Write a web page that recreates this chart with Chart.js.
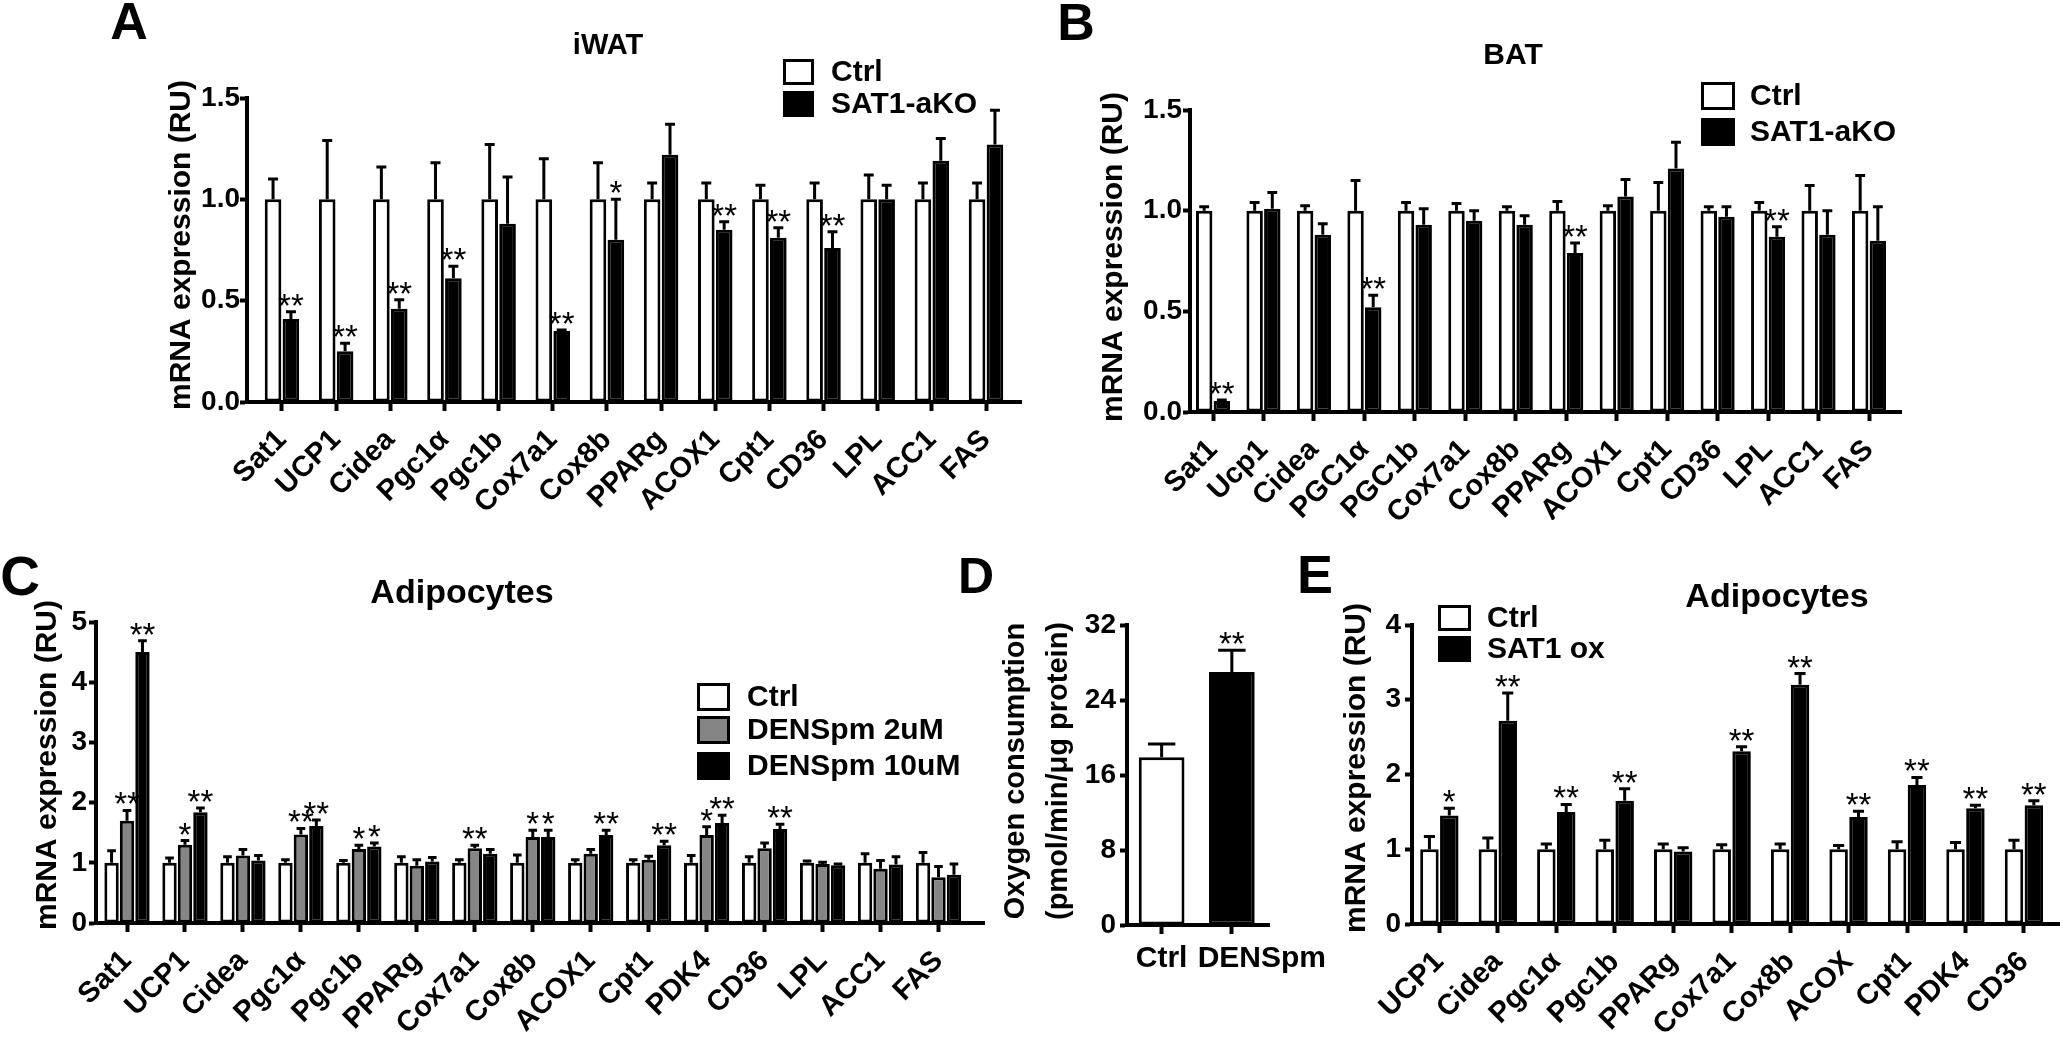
<!DOCTYPE html>
<html>
<head>
<meta charset="utf-8">
<script src="https://cdn.jsdelivr.net/npm/chart.js@4.4.1/dist/chart.umd.min.js"></script>
<style>
  body { margin: 0; background: #fff; width: 2064px; height: 1041px; overflow: hidden; position: relative; }
  canvas { position: absolute; }
</style>
</head>
<body>
<canvas id="panelA"></canvas>
<canvas id="panelB"></canvas>
<canvas id="panelC"></canvas>
<canvas id="panelD"></canvas>
<canvas id="panelE"></canvas>
<script>
const FONT = "'Liberation Sans', Arial, Helvetica, sans-serif";

/* ── A: iWAT ─────────────────────────────────────────────── */
const catsA    = ['Sat1', 'UCP1', 'Cidea', 'Pgc1α', 'Pgc1b', 'Cox7a1', 'Cox8b', 'PPARg', 'ACOX1', 'Cpt1', 'CD36', 'LPL', 'ACC1', 'FAS'];
const ctrlA    = [1, 1, 1, 1, 1, 1, 1, 1, 1, 1, 1, 1, 1, 1];
const ctrlErrA = [0.10, 0.29, 0.16, 0.18, 0.27, 0.20, 0.18, 0.08, 0.08, 0.07, 0.08, 0.12, 0.08, 0.08];
const koA      = [0.41, 0.25, 0.46, 0.61, 0.88, 0.35, 0.80, 1.22, 0.85, 0.81, 0.76, 1.00, 1.19, 1.27];
const koErrA   = [0.035, 0.04, 0.045, 0.06, 0.23, 0.005, 0.20, 0.15, 0.04, 0.05, 0.08, 0.07, 0.11, 0.17];
const koStarsA = ['**', '**', '**', '**', '', '**', '*', '', '**', '**', '**', '', '', ''];

/* ── B: BAT ──────────────────────────────────────────────── */
const catsB    = ['Sat1', 'Ucp1', 'Cidea', 'PGC1α', 'PGC1b', 'Cox7a1', 'Cox8b', 'PPARg', 'ACOX1', 'Cpt1', 'CD36', 'LPL', 'ACC1', 'FAS'];
const ctrlB    = [1, 1, 1, 1, 1, 1, 1, 1, 1, 1, 1, 1, 1, 1];
const ctrlErrB = [0.02, 0.04, 0.025, 0.15, 0.04, 0.035, 0.02, 0.045, 0.025, 0.14, 0.02, 0.04, 0.125, 0.175];
const koB      = [0.055, 1.01, 0.88, 0.52, 0.93, 0.95, 0.93, 0.79, 1.07, 1.21, 0.97, 0.87, 0.88, 0.85];
const koErrB   = [0.005, 0.08, 0.055, 0.06, 0.08, 0.05, 0.045, 0.05, 0.085, 0.13, 0.05, 0.05, 0.12, 0.17];
const koStarsB = ['**', '', '', '**', '', '', '', '**', '', '', '', '**', '', ''];

/* ── C: Adipocytes + DENSpm ──────────────────────────────── */
const catsC     = ['Sat1', 'UCP1', 'Cidea', 'Pgc1α', 'Pgc1b', 'PPARg', 'Cox7a1', 'Cox8b', 'ACOX1', 'Cpt1', 'PDK4', 'CD36', 'LPL', 'ACC1', 'FAS'];
const ctrlC     = [1, 1, 1, 1, 1, 1, 1, 1, 1, 1, 1, 1, 1, 1, 1];
const ctrlErrC  = [0.20, 0.08, 0.10, 0.05, 0.04, 0.10, 0.05, 0.13, 0.05, 0.05, 0.12, 0.10, 0.03, 0.15, 0.17];
const d2C       = [1.70, 1.30, 1.12, 1.47, 1.23, 0.95, 1.24, 1.43, 1.15, 1.05, 1.46, 1.24, 0.98, 0.90, 0.76];
const d2ErrC    = [0.17, 0.07, 0.10, 0.10, 0.06, 0.10, 0.05, 0.11, 0.07, 0.06, 0.14, 0.09, 0.03, 0.14, 0.18];
const d2StarsC  = ['**', '*', '', '**', '*', '', '**', '*', '', '', '*', '', '', '', ''];
const d10C      = [4.50, 1.84, 1.04, 1.61, 1.27, 1.02, 1.15, 1.43, 1.46, 1.29, 1.66, 1.56, 0.96, 0.97, 0.80];
const d10ErrC   = [0.19, 0.07, 0.08, 0.10, 0.06, 0.07, 0.07, 0.11, 0.08, 0.07, 0.13, 0.08, 0.02, 0.13, 0.18];
const d10StarsC = ['**', '**', '', '**', '*', '', '', '*', '**', '**', '**', '**', '', '', ''];

/* ── D: oxygen consumption ───────────────────────────────── */
const catsD     = ['Ctrl', 'DENSpm'];
const ocrD      = [17.9, 27.0];
const ocrErrD   = [1.4, 2.3];
const ocrStarsD = ['', '**'];

/* ── E: Adipocytes + SAT1 ox ─────────────────────────────── */
const catsE    = ['UCP1', 'Cidea', 'Pgc1α', 'Pgc1b', 'PPARg', 'Cox7a1', 'Cox8b', 'ACOX', 'Cpt1', 'PDK4', 'CD36'];
const ctrlE    = [1, 1, 1, 1, 1, 1, 1, 1, 1, 1, 1];
const ctrlErrE = [0.17, 0.15, 0.07, 0.12, 0.07, 0.06, 0.07, 0.05, 0.10, 0.09, 0.12];
const oxE      = [1.45, 2.72, 1.50, 1.65, 0.97, 2.31, 3.20, 1.43, 1.86, 1.55, 1.59];
const oxErrE   = [0.10, 0.37, 0.10, 0.16, 0.05, 0.06, 0.15, 0.08, 0.10, 0.04, 0.06];
const oxStarsE = ['*', '**', '**', '**', '', '**', '**', '**', '**', '**', '**'];

// error bars, stars, letters, titles, legends (page coords -> canvas coords)
function decorPlugin(p) {
    const L = x => x - p.box.l;
    const T = y => y - p.box.t;
    return {
        id: 'decor',
        afterDatasetsDraw(chart) {
            const ctx = chart.ctx;
            const y = chart.scales.y;
            ctx.save();
            ctx.strokeStyle = '#000';
            ctx.fillStyle = '#000';
            ctx.lineWidth = 3;
            ctx.font = `33px ${FONT}`;
            ctx.textAlign = 'center';
            ctx.textBaseline = 'alphabetic';
            chart.data.datasets.forEach((ds, di) => {
                chart.getDatasetMeta(di).data.forEach((bar, i) => {
                    const top = y.getPixelForValue(ds.data[i].y + ds.errors[i]);
                    const half = bar.width * 0.3;
                    ctx.beginPath();
                    ctx.moveTo(bar.x, bar.y);
                    ctx.lineTo(bar.x, top);
                    ctx.moveTo(bar.x - half, top);
                    ctx.lineTo(bar.x + half, top);
                    ctx.stroke();
                    if (ds.stars && ds.stars[i]) ctx.fillText(ds.stars[i], bar.x, top + 5);
                });
            });
            ctx.restore();
        },
        afterDraw(chart) {
            const ctx = chart.ctx;
            ctx.save();
            ctx.fillStyle = '#000';
            ctx.textBaseline = 'alphabetic';
            ctx.textAlign = 'center';

            // panel letter
            ctx.font = `bold ${p.letter.size}px ${FONT}`;
            ctx.fillText(p.letter.text, L(p.letter.x), T(p.letter.y));

            // panel title
            if (p.title) {
                ctx.font = `bold ${p.title.size}px ${FONT}`;
                ctx.fillText(p.title.text, L(p.title.x), T(p.title.y));
            }

            // y axis title (one or two lines)
            ctx.font = `bold ${p.ytitle.size}px ${FONT}`;
            ctx.textBaseline = 'middle';
            p.ytitle.lines.forEach((line, k) => {
                ctx.save();
                ctx.translate(L(p.ytitle.x[k]), T(p.ytitle.y));
                ctx.rotate(-Math.PI / 2);
                ctx.fillText(line, 0, 0);
                ctx.restore();
            });

            // legend
            if (p.legend) {
                const lg = p.legend;
                ctx.font = `bold 30px ${FONT}`;
                ctx.textAlign = 'left';
                ctx.lineWidth = 3;
                ctx.strokeStyle = '#000';
                chart.data.datasets.forEach((ds, di) => {
                    const cy = lg.rows[di];
                    ctx.fillStyle = ds.backgroundColor;
                    ctx.fillRect(L(lg.bx), T(cy - lg.bh / 2), lg.bw, lg.bh);
                    ctx.strokeRect(L(lg.bx) + 1.5, T(cy - lg.bh / 2) + 1.5, lg.bw - 3, lg.bh - 3);
                    ctx.fillStyle = '#000';
                    ctx.fillText(ds.label, L(lg.tx), T(cy + 1));
                });
            }

            // horizontal category labels (panel D)
            if (p.xlabels) {
                const xs = chart.scales.x;
                ctx.font = `bold ${p.xlabels.size}px ${FONT}`;
                ctx.textAlign = 'center';
                ctx.textBaseline = 'alphabetic';
                p.cats.forEach((c, i) => {
                    ctx.fillText(c, xs.getPixelForValue(i) + p.xlabels.offsets[i], T(p.xlabels.y));
                });
            }
            ctx.restore();
        }
    };
}

function makePanel(id, p) {
    const cv = document.getElementById(id);
    const a = p.area, b = p.box;
    cv.width = b.w;
    cv.height = b.h;
    cv.style.left = b.l + 'px';
    cv.style.top = b.t + 'px';

    return new Chart(cv, {
        type: 'bar',
        data: {
            datasets: p.datasets.map(d => ({
                label: d.label,
                data: p.cats.map((c, i) => ({ x: i, y: d.values[i] })),
                errors: d.errors,
                stars: d.stars,
                backgroundColor: d.color,
                borderColor: '#000',
                borderWidth: 3,
                borderSkipped: false,
                categoryPercentage: p.catPct,
                barPercentage: 0.93,
            })),
        },
        options: {
            responsive: false,
            animation: false,
            devicePixelRatio: 1,
            events: [],
            layout: { padding: { left: 0, top: a.t - b.t, right: b.l + b.w - a.r, bottom: 0 } },
            plugins: {
                legend: { display: false },
                tooltip: { enabled: false },
            },
            scales: {
                x: {
                    type: 'linear',
                    min: p.xMin,
                    max: p.xMax,
                    offset: false,
                    afterBuildTicks: s => { s.ticks = p.cats.map((c, i) => ({ value: i })); },
                    afterFit: s => { s.height = b.t + b.h - a.b; s.paddingLeft = 0; s.paddingRight = 0; },
                    grid: { offset: false, drawOnChartArea: false, tickLength: 9, tickWidth: 4, tickColor: '#000' },
                    border: { color: '#000', width: 4, z: 1 },
                    ticks: {
                        display: !p.xlabels,
                        autoSkip: false,
                        maxRotation: 45,
                        minRotation: 45,
                        padding: 12,
                        color: '#000',
                        font: { family: FONT, size: 29, weight: 'bold' },
                        callback: (v, i) => p.cats[i],
                    },
                },
                y: {
                    min: 0,
                    max: p.yMax,
                    afterFit: s => { s.width = a.l - b.l; s.paddingTop = 0; s.paddingBottom = 0; },
                    grid: { drawOnChartArea: false, tickLength: 7, tickWidth: 4, tickColor: '#000' },
                    border: { color: '#000', width: 4, z: 1 },
                    ticks: {
                        stepSize: p.yStep,
                        padding: p.yPad,
                        color: '#000',
                        font: { family: FONT, size: 28, weight: 'bold' },
                        callback: v => v.toFixed(p.yDec),
                    },
                },
            },
        },
        plugins: [decorPlugin(p)],
    });
}

makePanel('panelA', {
    box: { l: 0, t: 0, w: 1040, h: 520 },
    area: { l: 247, t: 98, r: 1021, b: 402 },
    cats: catsA, xMin: -0.646, xMax: 13.646, catPct: 0.66,
    yMax: 1.5, yStep: 0.5, yDec: 1, yPad: 0,
    datasets: [
        { label: 'Ctrl', values: ctrlA, errors: ctrlErrA, color: '#fff' },
        { label: 'SAT1-aKO', values: koA, errors: koErrA, stars: koStarsA, color: '#000' },
    ],
    letter: { text: 'A', size: 52, x: 129, y: 39 },
    title: { text: 'iWAT', size: 29, x: 608, y: 54 },
    ytitle: { lines: ['mRNA expression (RU)'], x: [182], y: 245, size: 30 },
    legend: { bx: 783, bw: 31, bh: 26, rows: [72, 104], tx: 831 },
});

makePanel('panelB', {
    box: { l: 1040, t: 0, w: 1024, h: 520 },
    area: { l: 1190, t: 110, r: 1901, b: 412 },
    cats: catsB, xMin: -0.456, xMax: 13.634, catPct: 0.7,
    yMax: 1.5, yStep: 0.5, yDec: 1, yPad: 1,
    datasets: [
        { label: 'Ctrl', values: ctrlB, errors: ctrlErrB, color: '#fff' },
        { label: 'SAT1-aKO', values: koB, errors: koErrB, stars: koStarsB, color: '#000' },
    ],
    letter: { text: 'B', size: 52, x: 1076, y: 40 },
    title: { text: 'BAT', size: 30, x: 1513, y: 64 },
    ytitle: { lines: ['mRNA expression (RU)'], x: [1114], y: 257, size: 30 },
    legend: { bx: 1701, bw: 34, bh: 28, rows: [96, 132], tx: 1750 },
});

makePanel('panelC', {
    box: { l: 0, t: 520, w: 990, h: 521 },
    area: { l: 96, t: 622, r: 984, b: 923 },
    cats: catsC, xMin: -0.535, xMax: 14.785, catPct: 0.8,
    yMax: 5, yStep: 1, yDec: 0, yPad: 2,
    datasets: [
        { label: 'Ctrl', values: ctrlC, errors: ctrlErrC, color: '#fff' },
        { label: 'DENSpm 2uM', values: d2C, errors: d2ErrC, stars: d2StarsC, color: '#858585' },
        { label: 'DENSpm 10uM', values: d10C, errors: d10ErrC, stars: d10StarsC, color: '#000' },
    ],
    letter: { text: 'C', size: 55, x: 20, y: 595 },
    title: { text: 'Adipocytes', size: 34, x: 462, y: 603 },
    ytitle: { lines: ['mRNA expression (RU)'], x: [48], y: 765, size: 30 },
    legend: { bx: 697, bw: 33, bh: 28, rows: [697, 730, 766], tx: 747 },
});

makePanel('panelD', {
    box: { l: 940, t: 520, w: 410, h: 521 },
    area: { l: 1127, t: 625, r: 1269, b: 925 },
    cats: catsD, xMin: -0.493, xMax: 1.529, catPct: 0.7,
    yMax: 32, yStep: 8, yDec: 0, yPad: 4,
    datasets: [
        { label: 'OCR', values: ocrD, errors: ocrErrD, stars: ocrStarsD, color: ['#fff', '#000'] },
    ],
    letter: { text: 'D', size: 50, x: 976, y: 593 },
    ytitle: { lines: ['Oxygen consumption', '(pmol/min/μg protein)'], x: [1016, 1059], y: 771, size: 29 },
    xlabels: { size: 30, y: 967, offsets: [0, 30] },
});

makePanel('panelE', {
    box: { l: 1290, t: 520, w: 774, h: 521 },
    area: { l: 1412, t: 625, r: 2059, b: 924 },
    cats: catsE, xMin: -0.468, xMax: 10.6, catPct: 0.68,
    yMax: 4, yStep: 1, yDec: 0, yPad: 4,
    datasets: [
        { label: 'Ctrl', values: ctrlE, errors: ctrlErrE, color: '#fff' },
        { label: 'SAT1 ox', values: oxE, errors: oxErrE, stars: oxStarsE, color: '#000' },
    ],
    letter: { text: 'E', size: 54, x: 1315, y: 593 },
    title: { text: 'Adipocytes', size: 34, x: 1777, y: 607 },
    ytitle: { lines: ['mRNA expression (RU)'], x: [1357], y: 768, size: 30 },
    legend: { bx: 1438, bw: 33, bh: 26, rows: [618, 649], tx: 1487 },
});
</script>
</body>
</html>
